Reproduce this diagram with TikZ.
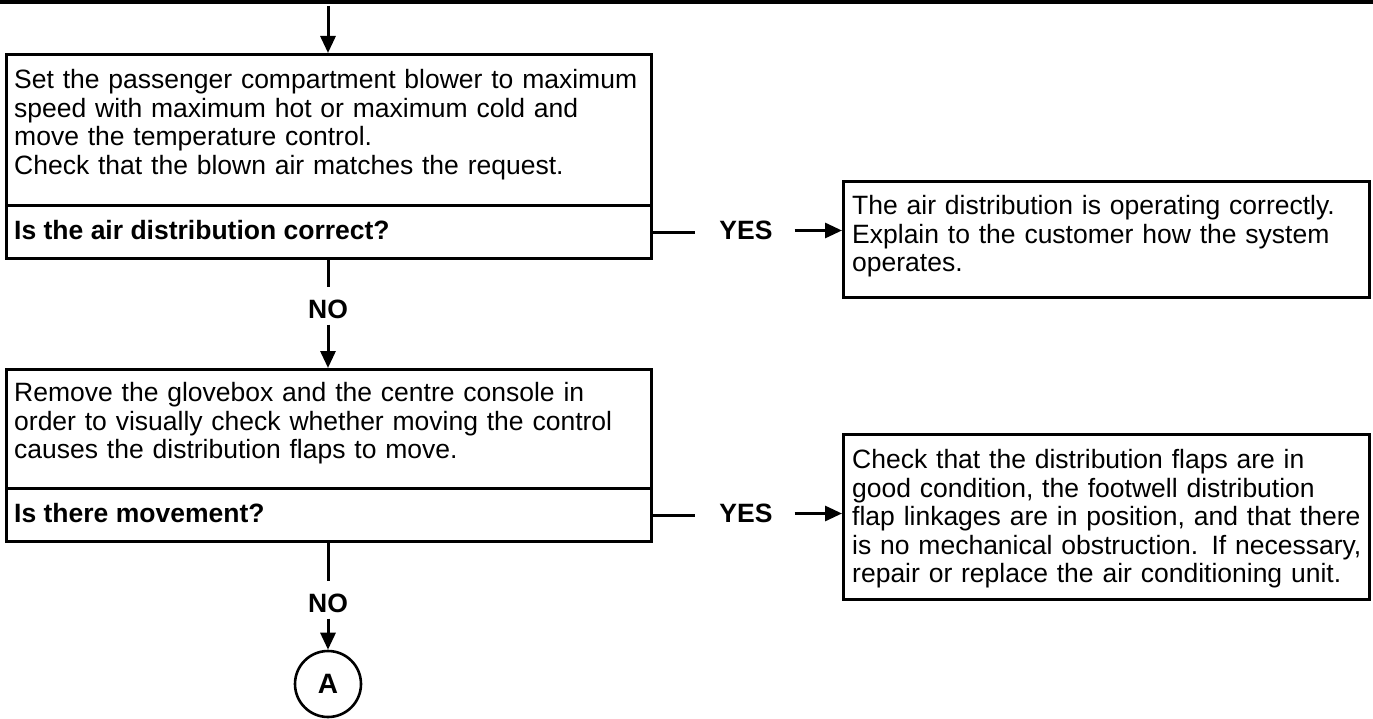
\documentclass[tikz,border=0pt]{standalone}
\usepackage{fontspec}
\setmainfont{Liberation Sans}
\usetikzlibrary{arrows.meta,calc}
\begin{document}
\begin{tikzpicture}[x=1pt,y=-1pt,
  box/.style={draw,line width=3.4pt,rectangle,inner sep=0pt,anchor=north west},
  txt/.style={anchor=north west,align=left,inner sep=0pt,font=\fontsize{26.5}{28.5}\selectfont},
  lab/.style={font=\fontsize{26.5}{28.5}\selectfont\bfseries,inner sep=0pt},
  wire/.style={line width=3pt},
  flow/.style={line width=3pt,-{Triangle[length=17pt,width=15pt]}},
]
\useasboundingbox (0,0) rectangle (1373,719);

% header rule and entry point
\coordinate (tl) at (0,2);
\coordinate (tr) at (1373,2);
\draw[line width=4pt] (tl) -- (tr);
\coordinate (s0) at (328,6);

% first test
\node[box,minimum width=645pt,minimum height=151pt] (b1) at (5,53) {};
\node[box,minimum width=645pt,minimum height=53pt] (q1) at (5,204) {};
\node[txt,text width=635pt] (t1) at (14,69.5) {Set the passenger compartment blower to maximum\\
speed with maximum hot or maximum cold and\\
move the temperature control.\\
Check that the blown air matches the request.};
\node[lab,anchor=west] (q1t) at (14,230.5) {Is the air distribution correct?};

% result when correct
\node[box,minimum width=526pt,minimum height=116pt] (r1) at (842,180) {};
\node[txt,text width=520pt] (r1t) at (852,195.5) {The air distribution is operating correctly.\\
Explain to the customer how the system\\
operates.};

% second test
\node[box,minimum width=645pt,minimum height=119pt] (b2) at (5,368) {};
\node[box,minimum width=645pt,minimum height=53pt] (q2) at (5,487) {};
\node[txt,text width=635pt] (t2) at (14,382.5) {Remove the glovebox and the centre console in\\
order to visually check whether moving the control\\
causes the distribution flaps to move.};
\node[lab,anchor=west] (q2t) at (14,513.5) {Is there movement?};

% result when flaps move
\node[box,minimum width=526pt,minimum height=165pt] (r2) at (842,433) {};
\node[txt,text width=520pt] (r2t) at (852,449.5) {Check that the distribution flaps are in\\
good condition, the footwell distribution\\
flap linkages are in position, and that there\\
is no mechanical obstruction. If necessary,\\
repair or replace the air conditioning unit.};

% branch labels
\node[lab] (no1) at (328,309) {NO};
\node[lab] (no2) at (328,603) {NO};
\node[lab] (yes1) at (746,230.5) {YES};
\node[lab] (yes2) at (746,513.5) {YES};

% off-page connector
\node[draw,circle,line width=2.6pt,minimum size=66pt,inner sep=0pt,
      font=\fontsize{28}{28}\selectfont\bfseries] (A) at (328,684) {A};

% connectors
\draw[flow] (s0) -- (s0 |- b1.north);
\draw[wire,shorten >=12pt] (no1 |- q1.south) -- (no1.north);
\draw[flow,shorten <=6pt] (no1.south) -- (no1 |- b2.north);
\draw[wire,shorten >=24pt] (q1.east) -- (q1.east -| yes1.west);
\draw[flow,shorten <=22pt] (yes1.east) -- (yes1.east -| r1.west);
\draw[wire,shorten >=12pt] (no2 |- q2.south) -- (no2.north);
\draw[flow,shorten <=6pt] (no2.south) -- (A.north);
\draw[wire,shorten >=24pt] (q2.east) -- (q2.east -| yes2.west);
\draw[flow,shorten <=22pt] (yes2.east) -- (yes2.east -| r2.west);
\end{tikzpicture}
\end{document}
